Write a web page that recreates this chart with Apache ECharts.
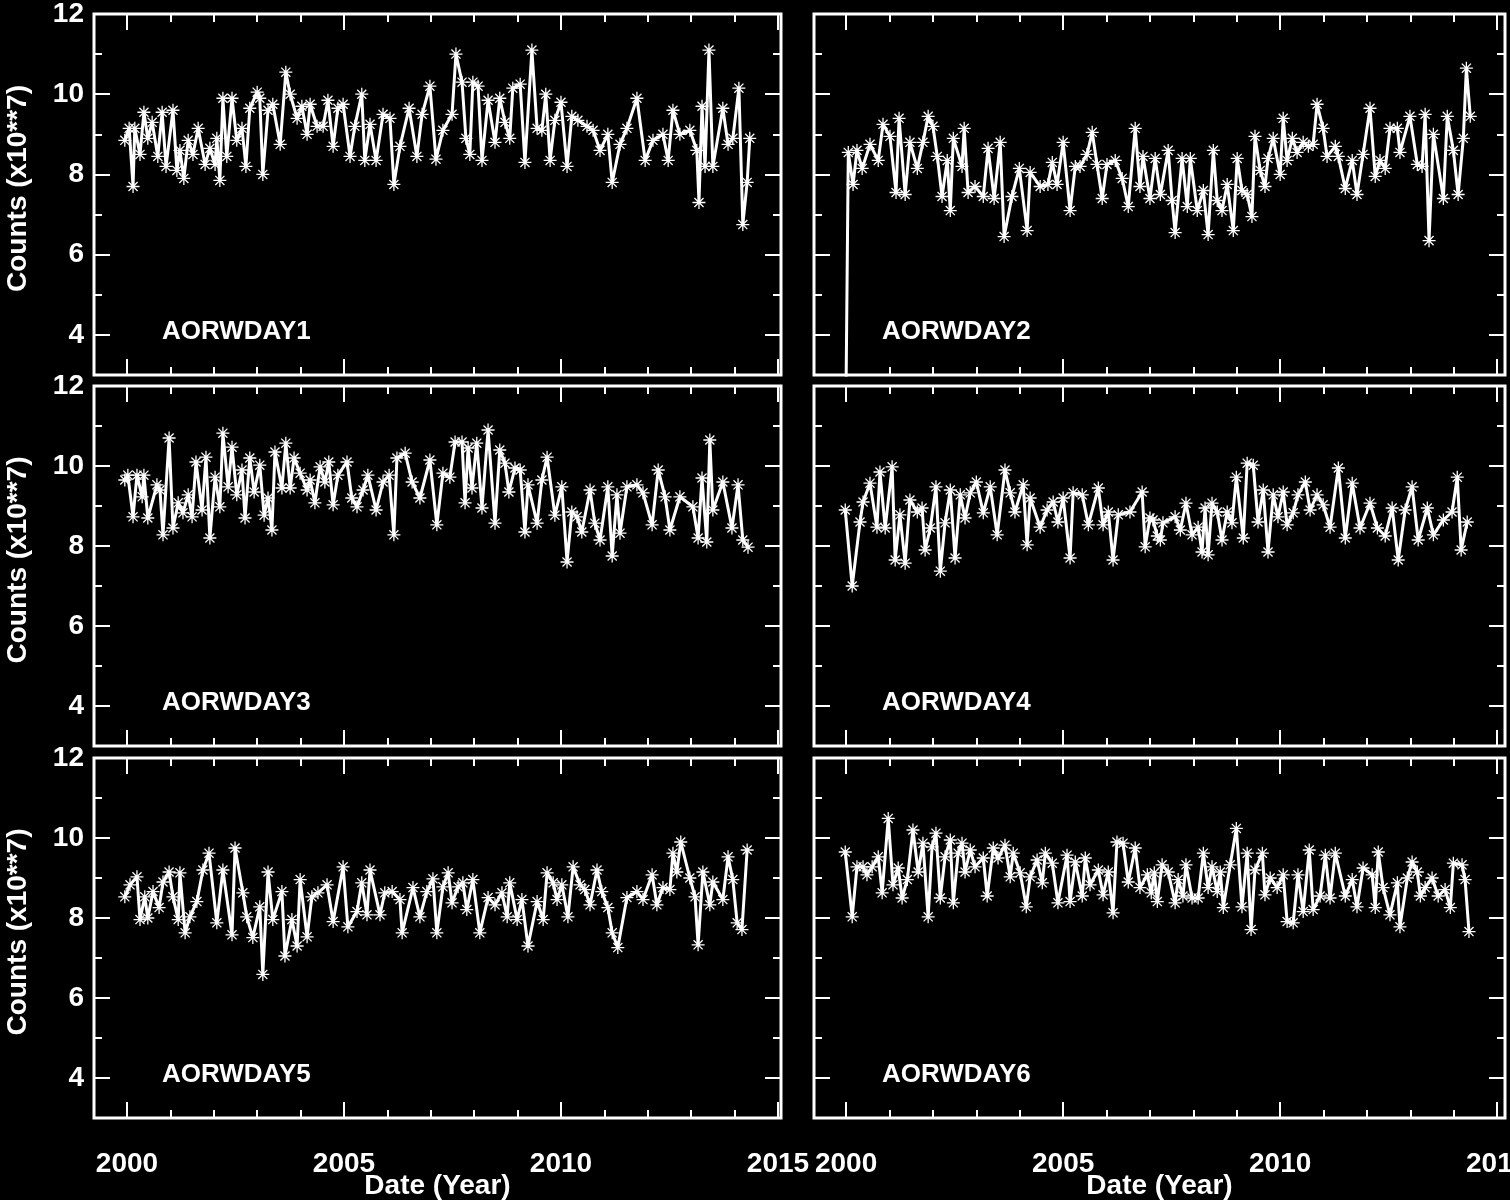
<!DOCTYPE html>
<html>
<head>
<meta charset="utf-8">
<script src="https://cdn.jsdelivr.net/npm/echarts@6/dist/echarts.min.js"></script>
<style>
html,body{margin:0;padding:0;background:#000;}
#chart{width:1510px;height:1200px;}
</style>
</head>
<body>
<div id="chart"></div>
<script>
// ---------------- data ----------------
const panelNames = ['AORWDAY1', 'AORWDAY2', 'AORWDAY3', 'AORWDAY4', 'AORWDAY5', 'AORWDAY6'];
const yTickLabels = [4, 6, 8, 10, 12];
const yMinorTicks = [3, 5, 7, 9, 11];
const xMajorYears = [2000, 2005, 2010, 2015];
const xMinorYears = [2000, 2001, 2002, 2003, 2004, 2005, 2006, 2007, 2008, 2009, 2010, 2011, 2012, 2013, 2014, 2015];
const xTickLabels = [2000, 2005, 2010, 2015];

const years1 = [1999.95,2000.05,2000.14,2000.18,2000.30,2000.39,2000.48,2000.58,2000.71,2000.81,2000.90,2001.06,2001.15,2001.22,2001.31,2001.41,2001.52,2001.64,2001.80,2001.91,2002.03,2002.07,2002.14,2002.21,2002.30,2002.42,2002.53,2002.65,2002.74,2002.83,2003.00,2003.06,2003.13,2003.25,2003.36,2003.53,2003.66,2003.76,2003.92,2004.03,2004.15,2004.22,2004.38,2004.52,2004.63,2004.75,2004.86,2004.98,2005.14,2005.25,2005.41,2005.48,2005.60,2005.74,2005.90,2006.06,2006.15,2006.29,2006.50,2006.68,2006.80,2006.98,2007.12,2007.28,2007.49,2007.58,2007.72,2007.81,2007.90,2007.97,2008.09,2008.18,2008.32,2008.48,2008.59,2008.71,2008.82,2008.89,2009.06,2009.17,2009.33,2009.45,2009.56,2009.65,2009.75,2009.86,2010.00,2010.14,2010.25,2010.39,2010.60,2010.74,2010.90,2011.08,2011.18,2011.36,2011.52,2011.75,2011.94,2012.12,2012.35,2012.47,2012.58,2012.74,2012.97,2013.13,2013.18,2013.25,2013.32,2013.41,2013.50,2013.73,2013.85,2013.96,2014.10,2014.19,2014.29,2014.35];
const counts1 = [8.85,9.15,7.7,9.15,8.5,9.55,8.9,9.3,8.45,9.55,8.2,9.6,8.1,8.6,7.9,8.85,8.5,9.15,8.25,8.65,8.25,8.9,7.85,9.9,8.45,9.9,8.85,9.15,8.2,9.65,10.05,9.9,8.0,9.6,9.75,8.75,10.55,10.0,9.4,9.7,9.0,9.75,9.2,9.2,9.85,8.7,9.65,9.75,8.45,9.2,10.0,8.35,9.25,8.35,9.5,9.4,7.75,8.7,9.65,8.45,9.5,10.2,8.38,9.1,9.5,11.0,10.3,8.9,8.5,10.3,10.2,8.35,9.85,8.8,9.9,9.3,8.9,10.15,10.25,8.3,11.1,9.15,9.1,10.0,8.35,9.35,9.8,8.2,9.45,9.35,9.2,9.1,8.6,9.0,7.8,8.75,9.15,9.9,8.35,8.85,9.0,8.35,9.6,9.0,9.1,8.6,7.3,9.7,8.2,11.1,8.2,9.65,8.75,8.9,10.15,6.75,7.8,8.9];

const years2 = [1999.98,2000.05,2000.16,2000.25,2000.37,2000.55,2000.74,2000.85,2001.01,2001.15,2001.22,2001.36,2001.47,2001.64,2001.77,2001.89,2002.00,2002.10,2002.21,2002.33,2002.40,2002.47,2002.67,2002.72,2002.81,2002.97,2003.16,2003.27,2003.41,2003.55,2003.64,2003.82,2003.99,2004.17,2004.24,2004.47,2004.65,2004.75,2004.86,2005.00,2005.16,2005.28,2005.39,2005.55,2005.67,2005.78,2005.90,2006.01,2006.20,2006.36,2006.50,2006.66,2006.77,2006.84,2007.00,2007.12,2007.24,2007.42,2007.51,2007.58,2007.74,2007.86,2007.93,2008.09,2008.23,2008.34,2008.46,2008.55,2008.66,2008.78,2008.92,2009.01,2009.12,2009.24,2009.35,2009.42,2009.54,2009.65,2009.72,2009.84,2010.00,2010.07,2010.16,2010.28,2010.39,2010.53,2010.65,2010.76,2010.85,2010.99,2011.08,2011.27,2011.34,2011.50,2011.66,2011.77,2011.91,2012.07,2012.19,2012.30,2012.42,2012.53,2012.70,2012.76,2012.99,2013.16,2013.27,2013.34,2013.43,2013.53,2013.76,2013.85,2013.99,2014.10,2014.22,2014.29,2014.38];
const counts2 = [0.5,8.55,7.75,8.6,8.15,8.75,8.35,9.25,8.95,7.55,9.4,7.5,8.8,8.15,8.8,9.45,9.2,8.45,7.45,8.35,7.1,8.9,8.2,9.15,7.55,7.7,7.45,8.65,7.4,8.8,6.45,7.45,8.15,6.6,8.05,7.7,7.75,8.3,7.75,8.8,7.1,8.2,8.2,8.5,9.05,8.25,7.4,8.25,8.35,7.9,7.2,9.15,7.7,8.45,7.4,8.4,7.5,8.6,7.35,6.55,8.4,7.2,8.4,7.1,7.6,6.5,8.6,7.35,7.1,7.75,6.6,8.4,7.6,7.5,6.95,8.95,8.1,7.7,8.4,8.9,8.0,9.4,8.35,8.9,8.55,8.8,8.7,8.75,9.75,9.15,8.45,8.7,8.45,7.65,8.35,7.5,8.5,9.65,7.95,8.35,8.15,9.15,9.15,8.55,9.45,8.25,8.2,9.5,6.35,9.0,7.4,9.45,8.6,7.5,8.9,10.65,9.45];

const years3 = [1999.95,2000.02,2000.14,2000.23,2000.35,2000.39,2000.48,2000.69,2000.76,2000.83,2000.97,2001.06,2001.18,2001.29,2001.41,2001.50,2001.59,2001.73,2001.82,2001.91,2002.03,2002.14,2002.21,2002.33,2002.42,2002.53,2002.65,2002.72,2002.83,2002.93,2003.06,2003.16,2003.25,2003.34,2003.41,2003.57,2003.66,2003.76,2003.85,2003.99,2004.15,2004.22,2004.33,2004.45,2004.56,2004.65,2004.75,2004.86,2005.07,2005.18,2005.30,2005.44,2005.55,2005.74,2005.90,2006.04,2006.15,2006.22,2006.41,2006.57,2006.75,2006.98,2007.14,2007.28,2007.44,2007.56,2007.72,2007.79,2007.86,2007.95,2008.06,2008.18,2008.32,2008.48,2008.59,2008.71,2008.80,2008.94,2009.06,2009.17,2009.24,2009.45,2009.56,2009.68,2009.86,2010.02,2010.14,2010.25,2010.37,2010.48,2010.67,2010.78,2010.90,2011.08,2011.18,2011.29,2011.36,2011.52,2011.75,2011.89,2012.10,2012.24,2012.40,2012.51,2012.74,2013.04,2013.16,2013.25,2013.36,2013.43,2013.50,2013.73,2013.94,2014.08,2014.19,2014.31];
const counts3 = [9.65,9.77,8.73,9.77,9.23,9.77,8.7,9.53,9.4,8.28,10.7,8.45,9.08,8.83,9.28,8.73,10.1,8.9,10.22,8.2,9.72,8.98,10.82,9.48,10.47,9.28,9.9,8.7,10.2,9.35,10.02,8.77,9.2,8.4,10.35,9.45,10.57,9.45,10.2,9.82,9.4,9.65,9.08,9.98,9.6,10.1,9.03,9.77,10.1,9.2,8.98,9.4,9.77,8.9,9.6,9.77,8.28,10.2,10.32,9.6,9.2,10.15,8.53,9.82,9.72,10.6,10.6,9.08,10.45,9.45,10.57,8.95,10.9,8.57,10.4,10.07,9.35,9.95,9.9,8.35,9.53,8.57,9.65,10.22,8.77,9.48,7.6,8.85,8.73,8.35,9.4,8.57,8.15,9.48,7.75,9.28,8.32,9.48,9.53,9.33,8.53,9.9,9.23,8.4,9.23,8.98,8.2,9.7,8.1,10.65,8.9,9.6,8.45,9.53,8.15,7.97];

const years4 = [1999.98,2000.14,2000.32,2000.39,2000.55,2000.71,2000.78,2000.90,2001.06,2001.13,2001.24,2001.36,2001.47,2001.64,2001.75,2001.82,2001.94,2002.07,2002.17,2002.28,2002.40,2002.51,2002.63,2002.74,2002.86,2003.00,2003.16,2003.32,2003.48,2003.66,2003.78,2003.89,2004.08,2004.17,2004.24,2004.47,2004.63,2004.77,2004.88,2005.00,2005.16,2005.23,2005.44,2005.58,2005.81,2005.92,2006.04,2006.15,2006.27,2006.54,2006.82,2006.89,2007.00,2007.07,2007.17,2007.24,2007.30,2007.58,2007.70,2007.83,2007.97,2008.11,2008.20,2008.27,2008.34,2008.43,2008.55,2008.66,2008.78,2008.89,2008.99,2009.15,2009.24,2009.38,2009.49,2009.61,2009.72,2009.84,2009.95,2010.07,2010.16,2010.30,2010.41,2010.58,2010.69,2010.85,2010.99,2011.15,2011.34,2011.50,2011.66,2011.84,2012.07,2012.24,2012.42,2012.58,2012.72,2012.88,2013.04,2013.18,2013.39,2013.53,2013.76,2013.96,2014.08,2014.17,2014.31];
const counts4 = [8.9,7.0,8.6,9.1,9.57,8.47,9.85,8.45,9.98,7.65,8.78,7.57,9.15,8.85,8.95,7.9,8.45,9.48,7.37,8.58,9.4,7.7,9.28,8.7,9.33,9.6,8.83,9.48,8.28,9.9,9.33,8.85,9.53,8.03,9.2,8.47,8.9,9.1,8.6,9.2,7.7,9.33,9.28,8.53,9.45,8.53,8.85,7.65,8.78,8.85,9.35,7.98,8.7,8.65,8.25,8.15,8.58,8.73,8.4,9.07,8.28,8.47,7.85,8.95,7.78,9.07,8.85,8.15,8.85,8.58,9.72,8.2,10.07,10.02,8.6,9.4,7.85,9.28,8.73,9.35,8.53,8.83,9.28,9.6,8.9,9.28,9.03,8.47,9.95,8.2,9.57,8.45,9.07,8.45,8.25,8.95,7.65,8.9,9.48,8.15,8.95,8.28,8.65,8.85,9.72,7.9,8.6];

const years5 = [1999.95,2000.07,2000.23,2000.30,2000.41,2000.48,2000.60,2000.74,2000.83,2000.97,2001.06,2001.18,2001.22,2001.34,2001.45,2001.61,2001.75,2001.89,2002.07,2002.21,2002.42,2002.49,2002.67,2002.76,2002.90,2003.06,2003.13,2003.25,2003.36,2003.57,2003.64,2003.80,2003.92,2003.99,2004.15,2004.26,2004.40,2004.61,2004.75,2004.98,2005.09,2005.30,2005.41,2005.53,2005.60,2005.83,2005.94,2006.11,2006.29,2006.34,2006.59,2006.75,2006.91,2007.05,2007.14,2007.28,2007.40,2007.49,2007.63,2007.74,2007.83,2007.97,2008.13,2008.32,2008.48,2008.64,2008.76,2008.82,2008.99,2009.10,2009.24,2009.45,2009.59,2009.68,2009.82,2009.91,2010.02,2010.16,2010.28,2010.44,2010.55,2010.67,2010.83,2010.94,2011.08,2011.18,2011.31,2011.52,2011.75,2011.89,2012.10,2012.21,2012.35,2012.51,2012.58,2012.67,2012.76,2012.97,2013.09,2013.16,2013.27,2013.43,2013.50,2013.73,2013.85,2013.96,2014.06,2014.17,2014.29];
const counts5 = [8.53,8.83,9.03,7.96,8.53,8.0,8.66,8.26,8.9,9.15,8.53,7.96,9.13,7.63,8.03,8.41,9.2,9.62,7.88,9.2,7.58,9.75,8.63,8.03,7.51,8.28,6.59,9.15,7.96,8.66,7.05,7.96,7.3,8.96,7.53,8.53,8.63,8.83,7.91,9.28,7.78,8.16,8.88,8.08,9.2,8.08,8.63,8.66,8.46,7.63,8.76,8.03,8.66,8.98,7.63,8.78,9.13,8.38,8.78,8.88,8.21,8.96,7.63,8.51,8.33,8.63,8.03,8.88,7.96,8.46,7.3,8.41,7.96,9.13,8.88,8.46,8.83,8.03,9.28,8.83,8.71,8.33,9.2,8.66,8.26,7.63,7.26,8.51,8.66,8.46,9.08,8.33,8.76,8.71,9.62,9.15,9.9,9.0,8.53,7.33,9.15,8.33,8.9,8.46,9.53,8.96,7.88,7.71,9.7];

const years6 = [1999.98,2000.14,2000.25,2000.39,2000.48,2000.60,2000.74,2000.83,2000.97,2001.08,2001.20,2001.29,2001.41,2001.54,2001.66,2001.77,2001.89,2001.98,2002.07,2002.17,2002.28,2002.40,2002.47,2002.58,2002.67,2002.74,2002.86,2002.97,2003.16,2003.25,2003.39,2003.50,2003.66,2003.78,2003.85,2004.01,2004.15,2004.24,2004.40,2004.52,2004.59,2004.75,2004.88,2005.09,2005.16,2005.28,2005.44,2005.51,2005.62,2005.81,2005.92,2006.04,2006.15,2006.24,2006.38,2006.50,2006.66,2006.77,2006.94,2007.03,2007.10,2007.17,2007.28,2007.42,2007.58,2007.65,2007.76,2007.83,2007.97,2008.11,2008.23,2008.34,2008.43,2008.55,2008.62,2008.69,2008.85,2008.99,2009.12,2009.24,2009.33,2009.42,2009.59,2009.65,2009.77,2009.93,2010.07,2010.16,2010.30,2010.41,2010.53,2010.67,2010.76,2010.92,2011.04,2011.15,2011.27,2011.50,2011.66,2011.77,2011.91,2012.12,2012.19,2012.26,2012.37,2012.53,2012.70,2012.76,2012.93,2013.04,2013.16,2013.23,2013.34,2013.50,2013.64,2013.80,2013.92,2013.99,2014.19,2014.26,2014.35];
const counts6 = [9.65,8.03,9.28,9.28,9.08,9.28,9.53,8.63,10.49,8.83,9.25,8.5,8.96,10.2,9.15,9.87,8.03,9.78,10.12,8.5,9.53,9.95,8.38,9.62,9.87,9.15,9.7,9.28,9.5,8.55,9.75,9.5,9.82,9.03,9.62,9.13,8.28,9.03,9.45,8.88,9.62,9.37,8.38,9.57,8.41,9.4,8.55,9.5,8.83,9.2,8.58,9.15,8.13,9.9,9.87,8.9,9.75,8.76,9.08,8.63,9.13,8.41,9.33,9.15,8.38,8.96,8.55,9.33,8.5,8.5,9.62,8.76,9.28,8.66,9.15,8.26,9.33,10.24,8.28,9.62,7.71,9.2,9.62,8.58,9.0,8.76,9.08,7.91,7.88,9.08,8.16,9.7,8.21,8.55,9.57,8.5,9.62,8.55,8.96,8.28,9.25,9.08,8.26,9.65,8.76,8.08,8.88,7.78,9.0,9.4,9.15,8.55,8.76,9.0,8.55,8.71,8.26,9.37,9.33,8.96,7.66];

const allYears = [years1, years2, years3, years4, years5, years6];
const allCounts = [counts1, counts2, counts3, counts4, counts5, counts6];

// ---------------- layout ----------------
const FONT = '"Liberation Sans", Arial, sans-serif';
const FS = 28;
const cols = [
  {left: 94, width: 687, xmin: 1999.24, xmax: 2015.07},
  {left: 814, width: 691, xmin: 1999.26, xmax: 2015.18}
];
const rows = [{top: 14, height: 361}, {top: 386, height: 360}, {top: 758, height: 360}];

const asterisk = 'path://M-0.6,-6L0.6,-6L0.6,6L-0.6,6Z M-6,-0.6L6,-0.6L6,0.6L-6,0.6Z M-3.78,-4.62L4.62,3.78L3.78,4.62L-4.62,-3.78Z M-4.62,3.78L3.78,-4.62L4.62,-3.78L-3.78,4.62Z';

const grids = [], xAxes = [], yAxes = [], series = [], graphics = [];
const tickStyle = {color: '#fff', width: 2};
const labelBase = {color: '#fff', fontSize: FS, fontFamily: FONT, fontWeight: 'bold', formatter: v => String(v)};

for (let i = 0; i < 6; i++) {
  const c = cols[i % 2], r = rows[Math.floor(i / 2)];
  const bottomRow = Math.floor(i / 2) === 2;
  const leftCol = i % 2 === 0;
  grids.push({left: c.left, top: r.top, width: c.width, height: r.height,
    outerBoundsMode: 'none', containLabel: false,
    show: true, borderColor: '#fff', borderWidth: 3, backgroundColor: 'transparent'});
  const xBase = {type: 'value', gridIndex: i, min: c.xmin, max: c.xmax,
    axisLine: {show: false}, splitLine: {show: false}};
  const firstX = xAxes.length;
  xAxes.push(Object.assign({}, xBase, {position: 'bottom',
    axisTick: {show: true, inside: true, length: 16, customValues: xMajorYears, lineStyle: tickStyle},
    axisLabel: Object.assign({show: bottomRow, customValues: xTickLabels, margin: 32, hideOverlap: false}, labelBase)}));
  xAxes.push(Object.assign({}, xBase, {position: 'bottom',
    axisTick: {show: true, inside: true, length: 8, customValues: xMinorYears, lineStyle: tickStyle},
    axisLabel: {show: false}}));
  xAxes.push(Object.assign({}, xBase, {position: 'top',
    axisTick: {show: true, inside: true, length: 16, customValues: xMajorYears, lineStyle: tickStyle},
    axisLabel: {show: false}}));
  xAxes.push(Object.assign({}, xBase, {position: 'top',
    axisTick: {show: true, inside: true, length: 8, customValues: xMinorYears, lineStyle: tickStyle},
    axisLabel: {show: false}}));
  const yBase = {type: 'value', gridIndex: i, min: 3, max: 12,
    axisLine: {show: false}, splitLine: {show: false}};
  const firstY = yAxes.length;
  yAxes.push(Object.assign({}, yBase, {position: 'left',
    axisTick: {show: true, inside: true, length: 16, customValues: yTickLabels, lineStyle: tickStyle},
    axisLabel: Object.assign({show: leftCol, customValues: yTickLabels, margin: 10}, labelBase)}));
  yAxes.push(Object.assign({}, yBase, {position: 'left',
    axisTick: {show: true, inside: true, length: 8, customValues: yMinorTicks, lineStyle: tickStyle},
    axisLabel: {show: false}}));
  yAxes.push(Object.assign({}, yBase, {position: 'right',
    axisTick: {show: true, inside: true, length: 16, customValues: yTickLabels, lineStyle: tickStyle},
    axisLabel: {show: false}}));
  yAxes.push(Object.assign({}, yBase, {position: 'right',
    axisTick: {show: true, inside: true, length: 8, customValues: yMinorTicks, lineStyle: tickStyle},
    axisLabel: {show: false}}));

  const data = allYears[i].map((y, k) => [y, allCounts[i][k]]);
  series.push({type: 'line', xAxisIndex: firstX, yAxisIndex: firstY, data: data,
    symbol: asterisk, symbolSize: 13, showSymbol: true, showAllSymbol: true, clip: true,
    lineStyle: {color: '#fff', width: 3}, itemStyle: {color: '#fff'},
    emphasis: {disabled: true}, animation: false});

  graphics.push({type: 'text', left: c.left + 68, top: r.top + r.height - 56,
    style: {text: panelNames[i], fill: '#fff', font: 'bold 26px ' + FONT}});
  if (leftCol) {
    graphics.push({type: 'text', x: 18, y: r.top + r.height / 2 - 6, rotation: Math.PI / 2,
      style: {text: 'Counts (x10**7)', fill: '#fff', font: 'bold ' + FS + 'px ' + FONT, textAlign: 'center', textVerticalAlign: 'middle'}});
  }
  if (bottomRow) {
    graphics.push({type: 'text', x: c.left + c.width / 2, y: 1186,
      style: {text: 'Date (Year)', fill: '#fff', font: 'bold ' + FS + 'px ' + FONT, textAlign: 'center', textVerticalAlign: 'middle'}});
  }
}

const chart = echarts.init(document.getElementById('chart'), null, {renderer: 'canvas'});
chart.setOption({
  backgroundColor: '#000',
  animation: false,
  grid: grids,
  xAxis: xAxes,
  yAxis: yAxes,
  series: series,
  graphic: graphics
});
</script>
</body>
</html>
